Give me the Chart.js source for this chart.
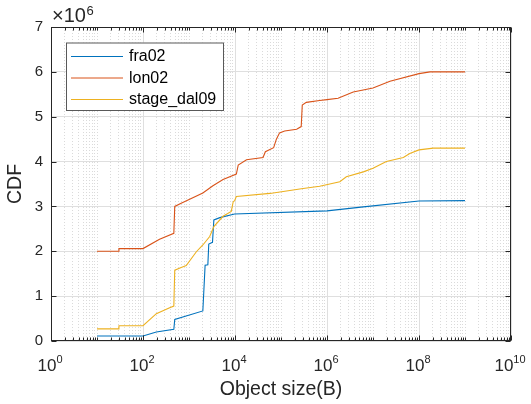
<!doctype html>
<html>

<head>
	<title>Object size CDF</title>
	<script src="https://cdn.jsdelivr.net/npm/chart.js@4/dist/chart.umd.min.js"></script>
	<style>
	body { margin: 0; background: #fff; }
	#container { width: 531px; height: 404px; }
	</style>
</head>

<body>
	<div id="container"><canvas id="canvas"></canvas></div>
	<script>
		/* eslint-disable no-undef */
		const FONT = '"Liberation Sans", Arial, Helvetica, sans-serif';

		// object size in bytes, CDF in units of 10^6
		const fra02Size = [10, 100, 195, 468, 490, 2000, 2240, 2570, 2690, 3240, 3470, 4680, 9770, 1e6, 6.17e6, 1e8, 1e9];
		const fra02Cdf = [0.11, 0.11, 0.20, 0.26, 0.48, 0.67, 1.69, 1.70, 2.16, 2.20, 2.70, 2.75, 2.83, 2.90, 2.99, 3.12, 3.13];

		const lon02Size = [10, 30, 30, 100, 229, 468, 490, 676, 2000, 3310, 5500, 10700, 11750, 17800, 40700, 45700, 69200, 79400, 93000, 120000, 219000, 275000, 290000, 355000, 692000, 1e6, 1.74e6, 3.72e6, 1e7, 2.34e7, 1e8, 1.74e8, 1e9];
		const lon02Cdf = [2.00, 2.00, 2.06, 2.06, 2.27, 2.40, 3.00, 3.07, 3.30, 3.46, 3.60, 3.72, 3.92, 4.04, 4.09, 4.22, 4.31, 4.50, 4.64, 4.68, 4.72, 4.78, 5.26, 5.32, 5.36, 5.38, 5.41, 5.55, 5.64, 5.79, 5.96, 6.00, 6.00];

		const dal09Size = [10, 30, 30, 100, 195, 380, 468, 490, 676, 871, 1445, 2000, 2820, 3470, 5500, 8300, 9120, 9800, 10700, 57500, 302000, 692000, 1.9e6, 2.63e6, 6.17e6, 1e7, 1.95e7, 4.57e7, 6.3e7, 1e8, 2.04e8, 1e9];
		const dal09Cdf = [0.27, 0.27, 0.34, 0.34, 0.61, 0.74, 0.78, 1.58, 1.64, 1.68, 1.99, 2.14, 2.33, 2.55, 2.78, 2.89, 3.10, 3.13, 3.22, 3.29, 3.40, 3.45, 3.55, 3.66, 3.77, 3.85, 4.00, 4.09, 4.18, 4.26, 4.30, 4.30];

		const seriesNames = ['fra02', 'lon02', 'stage_dal09'];
		const seriesColors = ['#0072BD', '#D95319', '#EDB120'];

		const xMajorValues = [1, 1e2, 1e4, 1e6, 1e8, 1e10];
		const xMajorExps = ['0', '2', '4', '6', '8', '10'];
		const yTicks = [0, 1, 2, 3, 4, 5, 6, 7];

		function toPoints(xs, ys) {
			return xs.map((v, i) => ({x: v, y: ys[i]}));
		}

		// matlab style: box, inward ticks, superscript labels, boxed legend
		const matlabAxes = {
			id: 'matlabAxes',
			afterDraw(chart) {
				const {ctx, chartArea: a, scales: {x, y}} = chart;
				const L = Math.round(a.left) + 0.5, R = Math.round(a.right) - 0.5;
				const T = Math.round(a.top) + 0.5, B = Math.round(a.bottom) - 0.5;
				ctx.save();
				ctx.strokeStyle = '#262626';
				ctx.lineWidth = 1;
				ctx.beginPath();
				x.ticks.forEach(t => {
					const px = Math.round(x.getPixelForValue(t.value)) + 0.5;
					const len = t.major ? 5 : 3;
					ctx.moveTo(px, B); ctx.lineTo(px, B - len);
					ctx.moveTo(px, T); ctx.lineTo(px, T + len);
				});
				yTicks.forEach(v => {
					const py = Math.round(y.getPixelForValue(v)) + 0.5;
					ctx.moveTo(L, py); ctx.lineTo(L + 5, py);
					ctx.moveTo(R, py); ctx.lineTo(R - 5, py);
				});
				ctx.stroke();
				ctx.strokeRect(L, T, R - L, B - T);

				// x tick labels 10^n
				ctx.fillStyle = '#262626';
				ctx.textBaseline = 'alphabetic';
				ctx.textAlign = 'left';
				xMajorValues.forEach((v, i) => {
					const px = x.getPixelForValue(v);
					ctx.font = '17px ' + FONT;
					const wb = ctx.measureText('10').width;
					ctx.font = '11px ' + FONT;
					const we = ctx.measureText(xMajorExps[i]).width;
					const sx = px - (wb + we) / 2 - 1;
					ctx.font = '17px ' + FONT;
					ctx.fillText('10', sx, 370.5);
					ctx.font = '11px ' + FONT;
					ctx.fillText(xMajorExps[i], sx + wb, 363);
				});

				// y exponent
				ctx.font = '20px ' + FONT;
				ctx.fillText('\u00d710', 52, 22);
				const wx = ctx.measureText('\u00d710').width;
				ctx.font = '13px ' + FONT;
				ctx.fillText('6', 52 + wx + 0.5, 15);

				// legend
				const lx = 66, ly = 42.5, lw = 157, lh = 67.5;
				ctx.fillStyle = '#fff';
				ctx.fillRect(lx, ly, lw, lh);
				ctx.strokeStyle = '#595959';
				ctx.strokeRect(lx + 0.5, ly + 0.5, lw, lh);
				ctx.font = '16px ' + FONT;
				ctx.textBaseline = 'middle';
				const rows = [56, 77.5, 99];
				chart.data.datasets.forEach((ds, i) => {
					ctx.strokeStyle = ds.borderColor;
					ctx.lineWidth = 1;
					ctx.beginPath();
					ctx.moveTo(71, rows[i] + 0.5);
					ctx.lineTo(123, rows[i] + 0.5);
					ctx.stroke();
					ctx.fillStyle = '#000';
					ctx.fillText(ds.label, 129, rows[i] + 1);
				});
				ctx.restore();
			}
		};

		const ctx = document.getElementById('canvas').getContext('2d');
		window.myChart = new Chart(ctx, {
			type: 'line',
			data: {
				datasets: [
					{label: seriesNames[0], data: toPoints(fra02Size, fra02Cdf), borderColor: seriesColors[0], order: 3},
					{label: seriesNames[1], data: toPoints(lon02Size, lon02Cdf), borderColor: seriesColors[1], order: 2},
					{label: seriesNames[2], data: toPoints(dal09Size, dal09Cdf), borderColor: seriesColors[2], order: 1}
				]
			},
			options: {
				responsive: true,
				maintainAspectRatio: false,
				animation: false,
				layout: {padding: {top: 27, right: 20, left: 0, bottom: 0}},
				elements: {
					line: {borderWidth: 1.1, tension: 0, fill: false},
					point: {radius: 0, hoverRadius: 0}
				},
				plugins: {
					legend: {display: false},
					tooltip: {enabled: false}
				},
				scales: {
					x: {
						type: 'logarithmic',
						min: 1,
						max: 1e10,
						afterBuildTicks(axis) {
							const ticks = [];
							for (let e = 0; e < 10; e++) {
								for (let m = 1; m < 10; m++) {
									ticks.push({value: m * Math.pow(10, e), major: m === 1 && e % 2 === 0});
								}
							}
							ticks.push({value: 1e10, major: true});
							axis.ticks = ticks;
						},
						afterFit(axis) { axis.height = 63; },
						ticks: {display: false, autoSkip: false},
						grid: {
							drawTicks: false,
							color: c => (c.tick && c.tick.major) ? '#dfdfdf' : '#dadada',
							lineWidth: 1
						},
						border: {
							display: false,
							dash: c => (c.tick && !c.tick.major) ? [1, 2] : []
						},
						title: {
							display: true,
							text: 'Object size(B)',
							color: '#262626',
							font: {family: FONT, size: 19.5},
							padding: {top: 0, bottom: 2.3}
						}
					},
					y: {
						min: 0,
						max: 7,
						afterFit(axis) { axis.width = 51; },
						ticks: {
							stepSize: 1,
							padding: 8,
							color: '#262626',
							font: {family: FONT, size: 15}
						},
						grid: {drawTicks: false, color: '#dfdfdf', lineWidth: 1},
						border: {display: false},
						title: {
							display: true,
							text: 'CDF',
							color: '#262626',
							font: {family: FONT, size: 19.5},
							padding: {top: 4.3, bottom: 0}
						}
					}
				}
			},
			plugins: [matlabAxes]
		});
	</script>
</body>

</html>
